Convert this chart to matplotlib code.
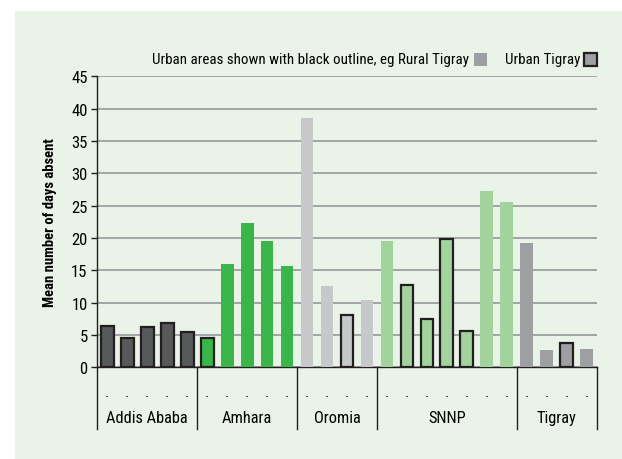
import matplotlib.pyplot as plt
from matplotlib.patches import Rectangle
from matplotlib.transforms import blended_transform_factory

plt.rcParams['font.family'] = ['Roboto Condensed', 'DejaVu Sans']

# данные: среднее число дней отсутствия по регионам
regions = ['Addis Ababa', 'Amhara', 'Oromia', 'SNNP', 'Tigray']
values = [
    [6.4, 4.6, 6.2, 6.9, 5.4],
    [4.5, 16.0, 22.3, 19.5, 15.7],
    [38.6, 12.6, 8.1, 10.4],
    [19.5, 12.8, 7.4, 19.8, 5.6, 27.3, 25.6],
    [19.2, 2.7, 3.8, 2.8],
]
urban = [
    [1, 1, 1, 1, 1],
    [1, 0, 0, 0, 0],
    [0, 0, 1, 0],
    [0, 1, 1, 1, 1, 0, 0],
    [0, 0, 1, 0],
]
colors = ['#58595b', '#39b54a', '#c7c8ca', '#a3d39c', '#9d9fa2']
bg = '#e9f3e7'
edge = '#231f20'

fig = plt.figure(figsize=(6.22, 4.60), dpi=100)
fig.patches.append(Rectangle((15 / 622, 0), 1, 448 / 460, transform=fig.transFigure,
                             facecolor=bg, edgecolor='none', zorder=-5))

ax = fig.add_axes([97.3 / 622, 91.7 / 460, 499.4 / 622, 291 / 460])
ax.set_facecolor(bg)
ax.patch.set_alpha(0)

pos = 0
bounds = [-0.5]
centers = []
for reg, vals, urb, col in zip(regions, values, urban, colors):
    xs = list(range(pos, pos + len(vals)))
    for x, v, u in zip(xs, vals, urb):
        if u:
            ax.bar(x, v, width=0.64, color=col, edgecolor=edge, linewidth=1.6, zorder=3)
        else:
            ax.bar(x, v, width=0.64, color=col, edgecolor='none', zorder=3)
    centers.append((xs[0] + xs[-1]) / 2)
    pos += len(vals)
    bounds.append(pos - 0.5)

ax.set_xlim(-0.5, pos - 0.5)
ax.set_ylim(0, 45)
ax.set_yticks(range(0, 46, 5))
ax.yaxis.grid(True, color='#9d9fa2', linewidth=1.3)
ax.set_axisbelow(True)
ax.set_xticks([])
for s in ['top', 'right']:
    ax.spines[s].set_visible(False)
ax.spines['left'].set_color(edge)
ax.spines['bottom'].set_color(edge)
ax.spines['left'].set_linewidth(1.0)
ax.spines['bottom'].set_linewidth(1.0)
ax.tick_params(axis='y', direction='out', length=4, width=1, color=edge,
               labelsize=12, pad=3)
ax.set_ylabel('Mean number of days absent', fontsize=10.5, fontweight='bold', labelpad=10)

# многоуровневая ось категорий
tr = blended_transform_factory(ax.transData, ax.transAxes)
for b in bounds:
    ax.plot([b, b], [0, -0.212], transform=tr, color=edge, linewidth=1.0, clip_on=False)
for x in range(pos):
    ax.text(x, -0.085, '.', transform=tr, ha='center', va='center', fontsize=11)
for c, reg in zip(centers, regions):
    ax.text(c, -0.173, reg, transform=tr, ha='center', va='center', fontsize=11.8)

# легенда
fig.text(469 / 622, 1 - 60 / 460, 'Urban areas shown with black outline, eg Rural Tigray',
         ha='right', va='center', fontsize=10.8)
fig.patches.append(Rectangle((474 / 622, 1 - 67 / 460), 13 / 622, 13 / 460,
                             transform=fig.transFigure, facecolor=colors[4], edgecolor='none'))
fig.text(580 / 622, 1 - 60 / 460, 'Urban Tigray', ha='right', va='center', fontsize=10.8)
fig.patches.append(Rectangle((584 / 622, 1 - 67 / 460), 13 / 622, 13 / 460,
                             transform=fig.transFigure, facecolor=colors[4],
                             edgecolor=edge, linewidth=1.6))

fig.savefig('out.png', dpi=100)
